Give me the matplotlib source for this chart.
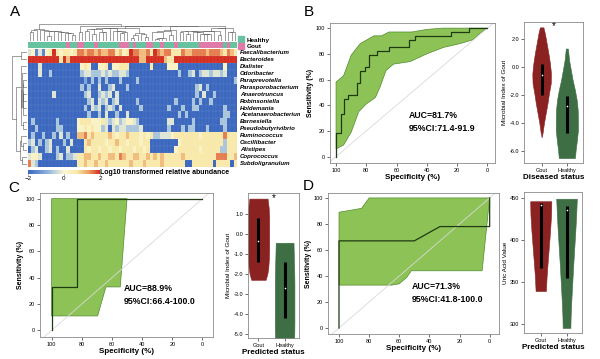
import numpy as np
import matplotlib
matplotlib.use('Agg')
import matplotlib.pyplot as plt
from matplotlib.colors import LinearSegmentedColormap, Normalize
from matplotlib.cm import ScalarMappable
from matplotlib.patches import Patch

plt.rcParams['font.family'] = ['Liberation Sans', 'DejaVu Sans']

# ---------------- panel A data (log10 abundance, coded 0..9 -> -2..2)
taxa = ['Faecalibacterium', 'Bacteroides', 'Dialister', 'Odoribacter', 'Paraprevotella',
        'Parasporobacterium', 'Anaerotruncus', 'Robinsoniella', 'Holdemania',
        'Acetanaerobacterium', 'Barnesiella', 'Pseudobutyrivibrio', 'Ruminococcus',
        'Oscillibacter', 'Alistipes', 'Coprococcus', 'Subdoligranulum']
abund_codes = [
    "45141569656656887887" "87788675698877869878" "86668778888788876876",
    "99999999969799999999" "99999999999977999997" "66999999999999999999",
    "00040000000000056500" "55605566600000060000" "55500000000000005000",
    "00040030000000034433" "34343344300000000000" "00030034034434434000",
    "00000000000000002030" "30300030000300000000" "00000000000000000003",
    "00000000000000030300" "40034000300000000000" "00000000340300000000",
    "00000004000000003400" "34340400000000000000" "00000000304003000000",
    "00000000000000000340" "43403400000300000000" "00300003030030000000",
    "00000000000000003043" "40343040000030000000" "30003003300000003000",
    "00000000000000000300" "30400300400000000000" "00030300000000003300",
    "03000000300000566655" "56434534554300000000" "44000003000000033000",
    "00300000330000556565" "53404344333340000000" "30003033000300003000",
    "03003003040300778676" "66676566766656563344" "45666666656666668666",
    "34030340003040006766" "66566766566656600000" "00056666666666663666",
    "03400340300400006566" "56656656665665600000" "00566666656666633666",
    "45540000340334667766" "76677687667766767676" "66667666666666888667",
    "84300000000000667667" "66766666676667666676" "66666006666660666606",
]
group_codes = ("HHHHHHHHHHH" "G" "HH" "GG" "HHH" "G" "HHHHHH" "GGG" "H" "G" "HHH"
               "GG" "HH" "G" "HHH" "G" "HHHHHH" "GGGGGGG" "H" "G" "HH")

# ---------------- ROC data (specificity %, sensitivity %)
roc_b = [(100, 0), (100, 18), (97, 18), (97, 33), (94.5, 33), (94.5, 45), (92, 45), (92, 48),
         (86, 48), (86, 57), (84, 57), (84, 67), (81, 67), (81, 70), (78, 70), (78, 79),
         (73, 79), (73, 82), (65, 82), (65, 85), (52, 85), (52, 91), (48, 91), (48, 94),
         (24, 94), (24, 97), (12, 97), (12, 100), (0, 100)]
ci_b_upper = [(100, 58), (95, 63), (90, 79), (84, 88), (78, 92), (75, 94), (70, 94),
              (65, 97), (50, 97), (40, 99), (30, 100), (0, 100)]
ci_b_lower = [(100, 6), (95, 9), (90, 19), (85, 35), (80, 41), (74, 46), (71, 54),
              (67, 67), (62, 72), (51, 74), (40, 80), (29, 85), (18, 88), (9.5, 91),
              (5, 96), (0, 100)]
roc_c = [(100, 0), (100, 33), (83, 33), (83, 100), (0, 100)]
ci_c_upper = [(100, 100), (50, 100)]
ci_c_lower = [(100, 11), (69.5, 11), (64, 33), (54.5, 33), (50, 100)]
roc_d = [(100, 0), (100, 67), (50, 67), (33, 78), (0, 78), (0, 100)]
ci_d_upper = [(100, 89), (85, 92), (80, 100), (0, 100)]
ci_d_lower = [(100, 33), (65, 33), (60, 34), (55, 39), (52, 44), (5, 44), (0, 100)]
auc_text = {'B': ('AUC=81.7%', '95%CI:71.4-91.9'),
            'C': ('AUC=88.9%', '95%CI:66.4-100.0'),
            'D': ('AUC=71.3%', '95%CI:41.8-100.0')}

# ---------------- violin profiles (value, half width) + box (q1, median, q3)
vio_b_gout_y = [2.8, 2.35, 1.65, 0.94, 0.24, -0.47, -1.18, -1.88, -2.6, -3.3, -4.0, -4.65, -5.0]
vio_b_gout_w = [0.07, 0.13, 0.2, 0.27, 0.33, 0.37, 0.36, 0.29, 0.23, 0.16, 0.09, 0.04, 0.0]
vio_b_heal_y = [1.3, 0.47, -0.24, -0.94, -1.65, -2.35, -3.06, -3.76, -4.47, -5.18, -5.88, -6.47]
vio_b_heal_w = [0.04, 0.09, 0.16, 0.23, 0.32, 0.39, 0.43, 0.44, 0.44, 0.4, 0.35, 0.32]
box_b = [(0.2, -0.6, -2.0), (-2.1, -2.8, -4.7)]
vio_c_gout_y = [1.75, 1.3, 0.8, 0.3, -0.2, -0.7, -1.2, -1.7, -2.0, -2.3]
vio_c_gout_w = [0.35, 0.39, 0.41, 0.41, 0.41, 0.41, 0.4, 0.375, 0.34, 0.275]
vio_c_heal_y = [-0.45, -1.0, -1.5, -2.0, -2.5, -3.0, -3.5, -4.0, -4.5, -5.0, -5.5, -5.8]
vio_c_heal_w = [0.34, 0.35, 0.36, 0.37, 0.375, 0.375, 0.375, 0.375, 0.375, 0.37, 0.36, 0.35]
box_c = [(0.8, -0.35, -1.4), (-1.4, -2.7, -4.2)]
vio_d_gout_y = [446, 430, 410, 390, 370, 355, 339]
vio_d_gout_w = [0.41, 0.4, 0.36, 0.31, 0.26, 0.225, 0.2]
vio_d_heal_y = [449, 430, 410, 390, 370, 350, 330, 310, 295]
vio_d_heal_w = [0.4, 0.375, 0.34, 0.3, 0.26, 0.225, 0.19, 0.16, 0.15]
box_d = [(444, 441, 366), (440, 435, 355)]

GOUT_C = '#8b2222'
HEAL_C = '#3d6e44'
FILL_C = '#8dc356'
LINE_C = '#1f3a12'

W, H = 600, 359
fig = plt.figure(figsize=(6, 3.59), dpi=100)


def px_axes(x0, y0, x1, y1):
    return fig.add_axes([x0 / W, 1 - y1 / H, (x1 - x0) / W, (y1 - y0) / H])


def adjacent_tree(vecs):
    # average linkage, merging only neighbouring clusters
    n = len(vecs)
    dist = np.sqrt(((vecs[:, None, :] - vecs[None, :, :]) ** 2).sum(-1))
    clusters = [dict(m=[i], pos=i + 0.5, h=0.0) for i in range(n)]
    links = []
    while len(clusters) > 1:
        d = [dist[np.ix_(a['m'], b['m'])].mean() for a, b in zip(clusters[:-1], clusters[1:])]
        k = int(np.argmin(d))
        a, b = clusters[k], clusters[k + 1]
        h = max(d[k], a['h'], b['h'])
        links.append((a['pos'], a['h'], b['pos'], b['h'], h))
        clusters[k:k + 2] = [dict(m=a['m'] + b['m'], pos=(a['pos'] + b['pos']) / 2, h=h)]
    return links


# ================= panel A
mat = np.array([[-2 + 4 * int(c) / 9 for c in row] for row in abund_codes])
nrow, ncol = mat.shape
cmap = LinearSegmentedColormap.from_list(
    'abund', [(0.0, '#3b67be'), (0.28, '#8fb5de'), (0.5, '#fbf7d2'),
              (0.68, '#f8e8a8'), (0.84, '#eda262'), (1.0, '#d42d22')])

ax_hm = px_axes(28, 49, 237, 167)
ax_hm.pcolormesh(mat, cmap=cmap, vmin=-2, vmax=2, linewidth=0, antialiased=False)
# faint cell borders
ax_hm.vlines(np.arange(1, ncol), 0, nrow, color='white', lw=0.15, alpha=0.35)
ax_hm.hlines(np.arange(1, nrow), 0, ncol, color='white', lw=0.15, alpha=0.35)
ax_hm.set_xlim(0, ncol)
ax_hm.set_ylim(nrow, 0)
ax_hm.axis('off')

ax_ann = px_axes(28, 42, 237, 48)
grp = np.array([[0 if g == 'H' else 1 for g in group_codes]])
ax_ann.pcolormesh(grp, cmap=LinearSegmentedColormap.from_list('g', ['#66c29f', '#e07aa8']),
                  vmin=0, vmax=1, linewidth=0, antialiased=False)
ax_ann.set_xlim(0, ncol)
ax_ann.axis('off')
ax_ann.legend(handles=[Patch(color='#66c29f', label='Healthy'), Patch(color='#e07aa8', label='Gout')],
              loc='lower left', bbox_to_anchor=(1.005, -0.15), frameon=False,
              prop=dict(size=4.6, weight='bold'), handlelength=1.0, handleheight=1.0,
              borderpad=0, labelspacing=0.05, handletextpad=0.3, borderaxespad=0)

ax_cd = px_axes(28, 23, 237, 41)
for xa, ha, xb, hb, h in adjacent_tree(mat.T):
    ax_cd.plot([xa, xa, xb, xb], [ha, h, h, hb], color='#555555', lw=0.4)
ax_cd.set_xlim(0, ncol)
ax_cd.set_ylim(0, None)
ax_cd.axis('off')

ax_rd = px_axes(12, 49, 27, 167)
row_links = adjacent_tree(mat)
for ya, ha, yb, hb, h in row_links:
    ax_rd.plot([ha, h, h, hb], [ya, ya, yb, yb], color='#555555', lw=0.4)
ax_rd.set_ylim(nrow, 0)
ax_rd.set_xlim(max(l[4] for l in row_links) * 1.02, 0)
ax_rd.axis('off')

ax_lab = px_axes(238, 49, 300, 167)
ax_lab.set_xlim(0, 1)
ax_lab.set_ylim(nrow, 0)
ax_lab.axis('off')
for i, t in enumerate(taxa):
    ax_lab.text(0.03, i + 0.5, t, fontsize=4.4, style='italic', weight='bold',
                va='center', ha='left', clip_on=True)

cax = px_axes(28, 170, 100, 174)
cb = fig.colorbar(ScalarMappable(Normalize(-2, 2), cmap), cax=cax, orientation='horizontal')
cb.set_ticks([-2, 0, 2])
cb.ax.tick_params(labelsize=4.5, length=1, width=0.4, pad=0.5)
cb.outline.set_visible(False)
fig.text(100 / W, 1 - 172 / H, 'Log10 transformed relative abundance', fontsize=5,
         weight='bold', va='center', ha='left')


# ================= ROC panels
def roc_panel(box, curve, upper, lower, texts, xlim, ylim):
    ax = px_axes(*box)
    poly = upper + lower[::-1]
    ax.fill([p[0] for p in poly], [p[1] for p in poly], color=FILL_C, ec='#4f8a2c', lw=0.5)
    ax.axline((100, 0), (0, 100), color='#d9d9d9', lw=0.6, zorder=1)
    ax.plot([p[0] for p in curve], [p[1] for p in curve], color=LINE_C, lw=0.9)
    ax.set_xlim(*xlim)
    ax.set_ylim(*ylim)
    ax.set_xticks([100, 80, 60, 40, 20, 0])
    ax.set_yticks([0, 20, 40, 60, 80, 100])
    ax.tick_params(labelsize=4, length=2, width=0.4, pad=1.5)
    for s in ax.spines.values():
        s.set_color('#8a8a8a')
        s.set_linewidth(0.6)
    ax.set_xlabel('Specificity (%)', fontsize=5.8, weight='bold', labelpad=1)
    ax.set_ylabel('Sensitivity (%)', fontsize=5, weight='bold', labelpad=1)
    ax.text(52, 32, texts[0], fontsize=6.3, weight='bold', ha='left', va='center')
    ax.text(52, 22, texts[1], fontsize=6.3, weight='bold', ha='left', va='center')
    return ax


roc_panel((330, 23, 495, 163), roc_b, ci_b_upper, ci_b_lower, auc_text['B'], (104, -5), (-5, 104))
roc_panel((40, 193, 213, 337), roc_c, ci_c_upper, ci_c_lower, auc_text['C'], (107.7, -7), (-5, 104.3))
roc_panel((328, 193, 499, 334), roc_d, ci_d_upper, ci_d_lower, auc_text['D'], (107.3, -6.2), (-4.6, 103.8))


# ================= violin panels
def violin_panel(box, profiles, boxes, xlim, ylim, yticks, fmt, xlabel, ylabel, star=None):
    ax = px_axes(*box)
    for pos, (ys, ws), col, (q1, med, q3) in zip([1, 2], profiles, [GOUT_C, HEAL_C], boxes):
        ys = np.array(ys)
        ws = np.array(ws)
        ax.fill_betweenx(ys, pos - ws, pos + ws, color=col, lw=0.4, ec=col)
        ax.plot([pos, pos], [q1, q3], color='black', lw=2.2, solid_capstyle='butt')
        ax.plot([pos], [med], marker='o', ms=1.2, color='white', mew=0)
    ax.set_xlim(*xlim)
    ax.set_ylim(*ylim)
    ax.set_xticks([1, 2])
    ax.set_xticklabels(['Gout', 'Healthy'])
    ax.set_yticks(yticks)
    ax.set_yticklabels([fmt.format(v) for v in yticks])
    ax.tick_params(labelsize=4, length=2, width=0.4, pad=1.5)
    for s in ax.spines.values():
        s.set_color('#8a8a8a')
        s.set_linewidth(0.6)
    ax.set_xlabel(xlabel, fontsize=5.8, weight='bold', labelpad=1)
    ax.set_ylabel(ylabel, fontsize=4.6, labelpad=1.5)
    if star:
        ax.text(star[0], star[1], '*', fontsize=7, ha='center', va='center')
    return ax


violin_panel((524, 22, 583, 163), [(vio_b_gout_y, vio_b_gout_w), (vio_b_heal_y, vio_b_heal_w)], box_b,
             (0.3, 2.64), (-6.82, 3.18), [2.0, 0.0, -2.0, -4.0, -6.0], '{:.1f}',
             'Diseased status', 'Microbial Index of Gout', star=(1.49, 2.9))
violin_panel((248, 193, 299, 338), [(vio_c_gout_y, vio_c_gout_w), (vio_c_heal_y, vio_c_heal_w)], box_c,
             (0.6, 2.55), (-5.2, 2.03), [1.0, 0.0, -1.0, -2.0, -3.0, -4.0, -5.0], '{:.1f}',
             'Predicted status', 'Microbial Index of Gout', star=(1.59, 1.8))
violin_panel((524, 192, 582, 333), [(vio_d_gout_y, vio_d_gout_w), (vio_d_heal_y, vio_d_heal_w)], box_d,
             (0.35, 2.6), (289, 457), [450, 400, 350, 300], '{:d}',
             'Predicted status', 'Uric Acid Value')

# panel letters
for letter, x, y in [('A', 15, 12), ('B', 309, 12), ('C', 14, 188), ('D', 308, 186)]:
    fig.text(x / W, 1 - y / H, letter, fontsize=11, ha='center', va='center')

fig.savefig('out.png', dpi=100)
